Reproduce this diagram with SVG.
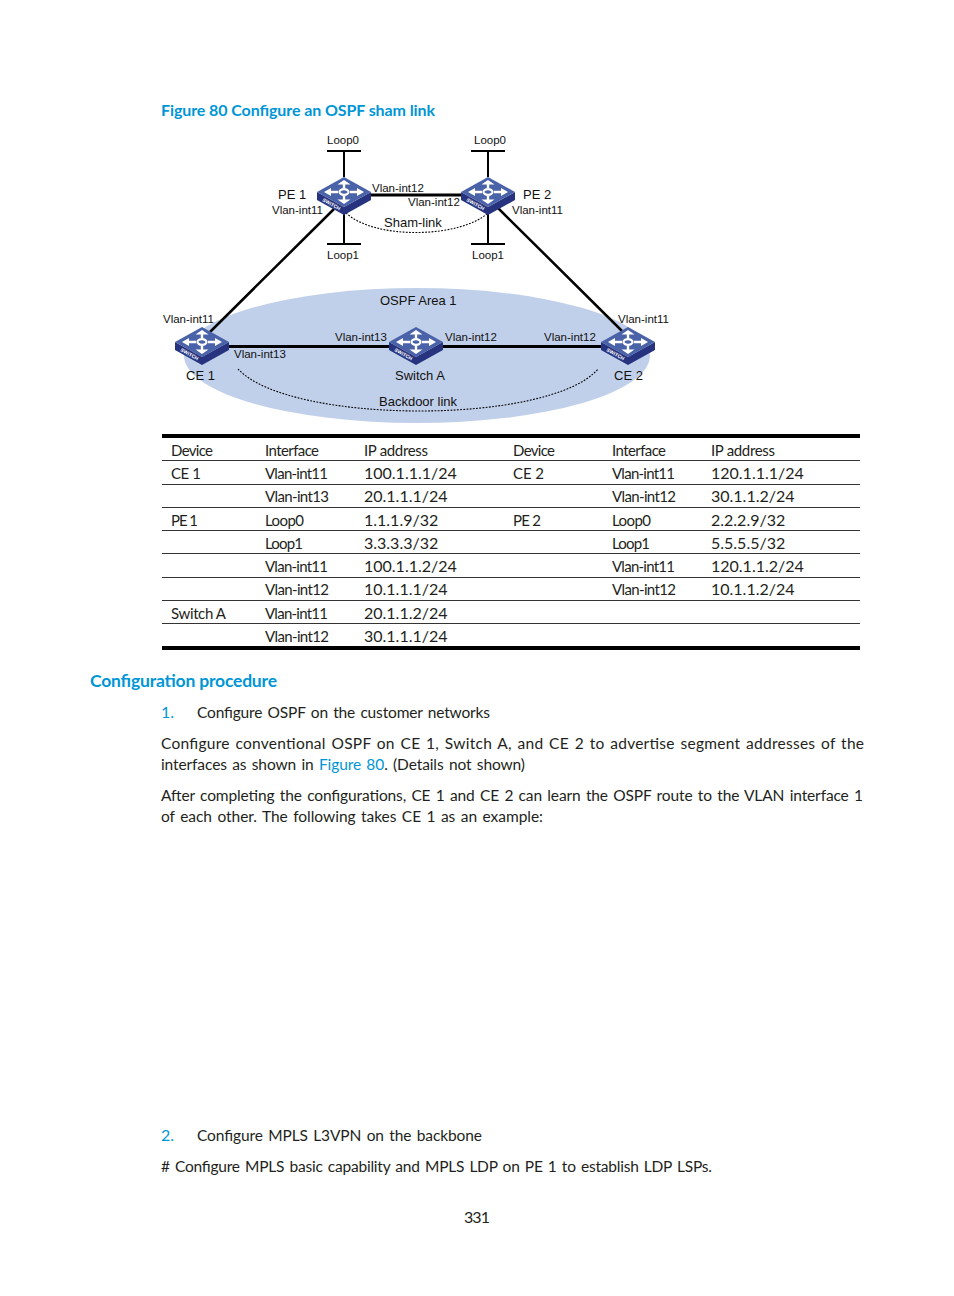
<svg xmlns="http://www.w3.org/2000/svg" width="954" height="1296" viewBox="0 0 954 1296">
<style>
text{font-family:"Lato","Open Sans",sans-serif;font-size:16px;fill:#231f20}
text.d{font-family:"Liberation Sans",Arial,sans-serif;font-size:11.500px;fill:#111}
text.n{font-family:"Liberation Sans",Arial,sans-serif;font-size:13px;fill:#111}
text.s{font-size:15px}
text.j{font-size:15.500px;word-spacing:1.500px}
text.b{fill:#0096d6}
text.h{fill:#0096d6;font-weight:700;font-size:17.500px}
.k{stroke:#000;fill:none}
.dot{stroke:#000;fill:none;stroke-width:1.100;stroke-dasharray:1.800 1.400}
.rule{stroke:#000;stroke-width:.8}
.thick{stroke:#000;stroke-width:4}
</style>
<defs>
<g id="sw">
<path d="M0 30L27 15V23L0 38L-27 23V15Z" fill="#27337f"/>
<path d="M0 0L27 15L0 30L-27 15Z" fill="#4a62a8"/>
<g fill="none" stroke="#fff">
<ellipse cx="0" cy="15" rx="4.500" ry="2.800" stroke-width="2.200"/>
<path d="M-6 15H-15M6 15H15M0 11V7M0 19V23" stroke-width="2.400"/>
</g>
<path d="M-20 15L-13 11V19ZM20 15L13 11V19ZM0 3L6.500 7.500H-6.500ZM0 27L6.500 22.500H-6.500Z" fill="#fff"/>
<text x="0" y="0" transform="translate(-22 24) rotate(29)" style="font-family:'Liberation Sans',sans-serif;font-size:5px;font-weight:700;fill:#fff">SWITCH</text>
</g>
</defs>
<text class="b" x="161" y="116" style="font-weight:700;font-size:16px" textLength="274">Figure 80 Configure an OSPF sham link</text>
<ellipse id="ospf-area" cx="417" cy="355.500" rx="233" ry="67.500" fill="#c1d0ea"/>
<g id="connectors">
<path class="k" stroke-width="2" d="M344 151V177M327 151H361M344 214V244M327 244H361M488 151V177M471 151H505M488 214V244M471 244H505"/>
<path class="k" stroke-width="3" d="M371 195H462M229 346.500H390M443 346.500H602"/>
<path class="k" stroke-width="2.500" d="M210 332L334 209M498 208L622 331"/>
<path class="dot" d="M346 213C375 240 460 238 488 213"/>
<path class="dot" d="M238 369C290 425 550 425 598 369"/>
</g>
<g id="pe1"><use href="#sw" x="344" y="177"/><text class="n" x="278" y="199">PE 1</text><text class="d" x="272" y="214">Vlan-int11</text></g>
<g id="pe2"><use href="#sw" x="488" y="177"/><text class="n" x="523" y="199">PE 2</text><text class="d" x="512" y="214">Vlan-int11</text></g>
<g id="ce1"><use href="#sw" x="202" y="327"/><text class="n" x="186" y="380">CE 1</text><text class="d" x="163" y="323">Vlan-int11</text></g>
<g id="switch-a"><use href="#sw" x="416" y="327"/><text class="n" x="395" y="380">Switch A</text></g>
<g id="ce2"><use href="#sw" x="628" y="327"/><text class="n" x="614" y="380">CE 2</text><text class="d" x="618" y="323">Vlan-int11</text></g>
<g id="labels">
<text class="d" x="327" y="144">Loop0</text><text class="d" x="474" y="144">Loop0</text>
<text class="d" x="327" y="259">Loop1</text><text class="d" x="472" y="259">Loop1</text>
<text class="d" x="372" y="192">Vlan-int12</text><text class="d" x="408" y="206">Vlan-int12</text>
<text class="n" x="384" y="227">Sham-link</text>
<text class="n" x="380" y="305">OSPF Area 1</text>
<text class="d" x="335" y="341">Vlan-int13</text><text class="d" x="445" y="341">Vlan-int12</text><text class="d" x="544" y="341">Vlan-int12</text><text class="d" x="234" y="358">Vlan-int13</text>
<text class="n" x="379" y="406">Backdoor link</text>
</g>
<g id="table">
<path class="thick" d="M162 436H860M162 648H860"/>
<path class="rule" d="M162 460.500H860M162 484.500H860M162 507.500H860M162 530.500H860M162 553.500H860M162 577.500H860M162 600.500H860M162 623.500H860"/>
<text class="s" textLength="42" x="171" y="456">Device</text><text class="s" textLength="54" x="265" y="456">Interface</text><text class="s" textLength="64" x="364" y="456">IP address</text><text class="s" textLength="42" x="513" y="456">Device</text><text class="s" textLength="54" x="612" y="456">Interface</text><text class="s" textLength="64" x="711" y="456">IP address</text>
<text class="s" textLength="30" x="171" y="479">CE 1</text><text class="s" textLength="63" x="265" y="479">Vlan-int11</text><text x="364" y="479">100.1.1.1/24</text><text class="s" textLength="31" x="513" y="479">CE 2</text><text class="s" textLength="63" x="612" y="479">Vlan-int11</text><text x="711" y="479">120.1.1.1/24</text>
<text class="s" textLength="64" x="265" y="502">Vlan-int13</text><text x="364" y="502">20.1.1.1/24</text><text class="s" textLength="64" x="612" y="502">Vlan-int12</text><text x="711" y="502">30.1.1.2/24</text>
<text class="s" textLength="27" x="171" y="526">PE 1</text><text class="s" textLength="39" x="265" y="526">Loop0</text><text x="364" y="526">1.1.1.9/32</text><text class="s" textLength="28" x="513" y="526">PE 2</text><text class="s" textLength="39" x="612" y="526">Loop0</text><text x="711" y="526">2.2.2.9/32</text>
<text class="s" textLength="38" x="265" y="549">Loop1</text><text x="364" y="549">3.3.3.3/32</text><text class="s" textLength="38" x="612" y="549">Loop1</text><text x="711" y="549">5.5.5.5/32</text>
<text class="s" textLength="63" x="265" y="572">Vlan-int11</text><text x="364" y="572">100.1.1.2/24</text><text class="s" textLength="63" x="612" y="572">Vlan-int11</text><text x="711" y="572">120.1.1.2/24</text>
<text class="s" textLength="64" x="265" y="595">Vlan-int12</text><text x="364" y="595">10.1.1.1/24</text><text class="s" textLength="64" x="612" y="595">Vlan-int12</text><text x="711" y="595">10.1.1.2/24</text>
<text class="s" textLength="55" x="171" y="619">Switch A</text><text class="s" textLength="63" x="265" y="619">Vlan-int11</text><text x="364" y="619">20.1.1.2/24</text>
<text class="s" textLength="64" x="265" y="642">Vlan-int12</text><text x="364" y="642">30.1.1.1/24</text>
</g>
<g id="body">
<text class="h" x="90" y="687" textLength="187">Configuration procedure</text>
<text class="b" x="161" y="718">1.</text><text x="197" y="718" textLength="293" class="j">Configure OSPF on the customer networks</text>
<text class="j" x="161" y="749" textLength="703">Configure conventional OSPF on CE 1, Switch A, and CE 2 to advertise segment addresses of the</text>
<text class="j" x="161" y="770" textLength="364">interfaces as shown in <tspan fill="#0096d6">Figure 80</tspan>. (Details not shown)</text>
<text class="j" x="161" y="801" textLength="702">After completing the configurations, CE 1 and CE 2 can learn the OSPF route to the VLAN interface 1</text>
<text class="j" x="161" y="822" textLength="382">of each other. The following takes CE 1 as an example:</text>
<text class="b" x="161" y="1141">2.</text><text class="j" x="197" y="1141" textLength="285">Configure MPLS L3VPN on the backbone</text>
<text class="j" x="161" y="1172" textLength="551"># Configure MPLS basic capability and MPLS LDP on PE 1 to establish LDP LSPs.</text>
<text x="464" y="1223" textLength="26">331</text>
</g>
</svg>
